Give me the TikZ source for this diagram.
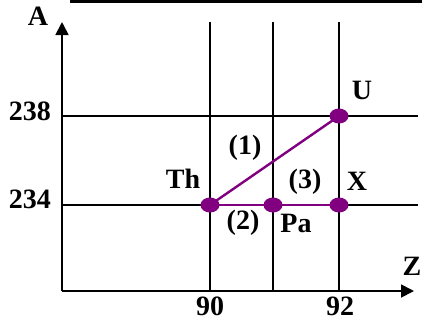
\documentclass[tikz,border=0pt]{standalone}
\usepackage{fontspec}
\setmainfont{Liberation Serif}
\usetikzlibrary{arrows.meta,shapes.geometric}
\definecolor{pur}{RGB}{128,0,128}
\begin{document}
\begin{tikzpicture}[x=1pt,y=-1pt,
  grid/.style={line width=1.8pt,black},
  axis/.style={line width=1.8pt,black,-{Triangle[width=13pt,length=13pt]}},
  decay/.style={line width=2.4pt,pur},
  dot/.style={ellipse,fill=pur,minimum width=19pt,minimum height=15pt,inner sep=0pt},
  lbl/.style={font=\fontsize{28}{28}\selectfont\bfseries,inner sep=0pt,text height=0.68em,text depth=0pt}]
\useasboundingbox (0,0) rectangle (422,322);
% top rule
\draw[line width=3pt] (70,1.5) -- (422,1.5);
% grid
\coordinate (o) at (62,291);
\coordinate (v1t) at (210,22); \coordinate (v1b) at (210,291);
\coordinate (v2t) at (273,22); \coordinate (v2b) at (273,291);
\coordinate (v3t) at (339,22); \coordinate (v3b) at (339,291);
\coordinate (h1l) at (62,116); \coordinate (h1r) at (418,116);
\coordinate (h2l) at (62,205); \coordinate (h2r) at (418,205);
\draw[grid] (v1t) -- (v1b);
\draw[grid] (v2t) -- (v2b);
\draw[grid] (v3t) -- (v3b);
\draw[grid] (h1l) -- (h1r);
\draw[grid] (h2l) -- (h2r);
% axes
\coordinate (ya) at (62,22);
\coordinate (xa) at (414,291);
\draw[axis] (o) -- (ya);
\draw[axis] (o) -- (xa);
% decays
\node[dot] (Th) at (210,205) {};
\node[dot] (Pa) at (273,205) {};
\node[dot] (X) at (339,205) {};
\node[dot] (U) at (339,116) {};
\draw[decay] (U.center) -- (Th.center);
\draw[decay] (Th.center) -- (Pa.center) -- (X.center);
% labels
\node[lbl] (lA) at (38,22) {A};
\node[lbl] (l238) at (30,117) {238};
\node[lbl] (l234) at (30,205) {234};
\node[lbl] (l90) at (210,312) {90};
\node[lbl] (l92) at (340,312) {92};
\node[lbl] (lZ) at (412,272) {Z};
\node[lbl] (lU) at (362,96) {U};
\node[lbl] (lTh) at (183,185) {Th};
\node[lbl] (l1) at (245,151) {(1)};
\node[lbl] (l3) at (305,185) {(3)};
\node[lbl] (lX) at (357,187) {X};
\node[lbl] (l2) at (243,226) {(2)};
\node[lbl] (lPa) at (296,229) {Pa};
\end{tikzpicture}
\end{document}
